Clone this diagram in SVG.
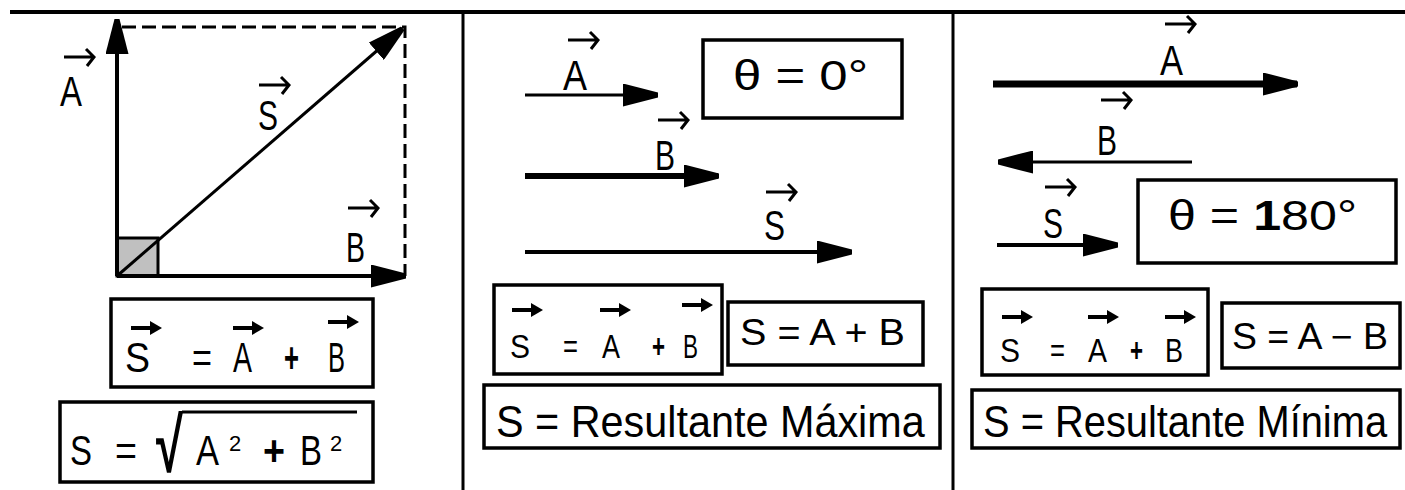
<svg xmlns="http://www.w3.org/2000/svg" xmlns:xlink="http://www.w3.org/1999/xlink" width="1405" height="490" viewBox="0 0 1405 490">
<style>
.ln{stroke:#000;fill:none}
.bx{fill:#fff;stroke:#000;stroke-width:3.5}
.t{font-family:"Liberation Sans",Arial,sans-serif;fill:#000}
.l{font-size:42px}
.m{font-size:34px}
.b{font-size:44px}
</style>
<defs>
<marker id="ah" viewBox="0 0 35 23" markerWidth="35" markerHeight="23" refX="34" refY="11.5" orient="auto" markerUnits="userSpaceOnUse">
<path d="M0,0 L35,9 L35,14 L0,23 Z" fill="#000"/>
</marker>
<path id="ova" d="M0,0 H30 M22,-8 L30,0 L23,9" stroke="#000" stroke-width="3" fill="none"/>
<g id="ovb"><path d="M0,0 H22" stroke="#000" stroke-width="4"/><path d="M19,-7 L31,0 L19,7 Z" fill="#000"/></g>
</defs>

<g id="frame">
<line class="ln" x1="10" y1="12" x2="1405" y2="12" stroke-width="4"/>
<line class="ln" x1="463" y1="12" x2="463" y2="490" stroke-width="3"/>
<line class="ln" x1="953" y1="12" x2="953" y2="490" stroke-width="3"/>
</g>

<g id="connectors">
<path class="ln" d="M122,27 H405 V276" stroke-width="3" stroke-dasharray="14 6"/>
<rect x="117" y="238" width="41" height="38" fill="#c0c0c0" stroke="#000" stroke-width="3"/>
<line class="ln" x1="117" y1="276" x2="117" y2="20" stroke-width="4" marker-end="url(#ah)"/>
<line class="ln" x1="117" y1="276" x2="405" y2="276" stroke-width="4" marker-end="url(#ah)"/>
<line class="ln" x1="117" y1="276" x2="402" y2="29" stroke-width="3" marker-end="url(#ah)"/>

<line class="ln" x1="525" y1="95" x2="657" y2="95" stroke-width="3" marker-end="url(#ah)"/>
<line class="ln" x1="525" y1="176" x2="718" y2="176" stroke-width="6" marker-end="url(#ah)"/>
<line class="ln" x1="525" y1="252" x2="851" y2="252" stroke-width="4" marker-end="url(#ah)"/>

<line class="ln" x1="993" y1="84" x2="1297" y2="84" stroke-width="7" marker-end="url(#ah)"/>
<line class="ln" x1="1192" y1="162" x2="999" y2="162" stroke-width="3" marker-end="url(#ah)"/>
<line class="ln" x1="997" y1="245" x2="1117" y2="245" stroke-width="4" marker-end="url(#ah)"/>
</g>

<g id="labelA1"><use xlink:href="#ova" x="64" y="57"/><text class="t l" x="60" y="106" textLength="22" lengthAdjust="spacingAndGlyphs">A</text></g>
<g id="labelS1"><use xlink:href="#ova" x="259" y="85"/><text class="t l" x="258" y="130" textLength="20" lengthAdjust="spacingAndGlyphs">S</text></g>
<g id="labelB1"><use xlink:href="#ova" x="348" y="208"/><text class="t l" x="346" y="262" textLength="19" lengthAdjust="spacingAndGlyphs">B</text></g>

<g id="eq1">
<rect class="bx" x="111" y="299" width="262" height="88"/>
<use xlink:href="#ovb" x="131" y="328"/><use xlink:href="#ovb" x="233" y="328"/><use xlink:href="#ovb" x="328" y="322"/>
<text class="t l" x="125" y="372" textLength="25" lengthAdjust="spacingAndGlyphs">S</text>
<text class="t l" x="192" y="372" textLength="20" lengthAdjust="spacingAndGlyphs">=</text>
<text class="t l" x="233" y="372" textLength="19" lengthAdjust="spacingAndGlyphs">A</text>
<text class="t l" x="284" y="372" textLength="15" lengthAdjust="spacingAndGlyphs" font-weight="bold">+</text>
<text class="t l" x="328" y="372" textLength="17" lengthAdjust="spacingAndGlyphs">B</text>
</g>

<g id="eq2">
<rect class="bx" x="60" y="402" width="313" height="80"/>
<text class="t l" x="70" y="465" textLength="22" lengthAdjust="spacingAndGlyphs">S</text>
<text class="t l" x="115" y="465" textLength="22" lengthAdjust="spacingAndGlyphs">=</text>
<text class="t" x="156" y="472" font-size="77" font-weight="bold" textLength="27" lengthAdjust="spacingAndGlyphs">√</text>
<line class="ln" x1="182" y1="412" x2="357" y2="412" stroke-width="3"/>
<text class="t l" x="196" y="465" textLength="23" lengthAdjust="spacingAndGlyphs">A</text>
<text class="t" x="229" y="451" font-size="22">2</text>
<text class="t l" x="263" y="465" textLength="22" lengthAdjust="spacingAndGlyphs" font-weight="bold">+</text>
<text class="t l" x="300" y="465" textLength="22" lengthAdjust="spacingAndGlyphs">B</text>
<text class="t" x="330" y="451" font-size="22">2</text>
</g>

<g id="labelA2"><use xlink:href="#ova" x="568" y="40"/><text class="t l" x="563" y="90" textLength="24" lengthAdjust="spacingAndGlyphs">A</text></g>
<g id="labelB2"><use xlink:href="#ova" x="658" y="120"/><text class="t l" x="655" y="170" textLength="20" lengthAdjust="spacingAndGlyphs">B</text></g>
<g id="labelS2"><use xlink:href="#ova" x="766" y="192"/><text class="t l" x="764" y="240" textLength="21" lengthAdjust="spacingAndGlyphs">S</text></g>

<g id="theta0">
<rect class="bx" x="703" y="40" width="199" height="78" stroke-width="4"/>
<text class="t l" x="733" y="90" textLength="135" lengthAdjust="spacingAndGlyphs">θ = 0°</text>
</g>

<g id="eq3">
<rect class="bx" x="494" y="285" width="228" height="89"/>
<use xlink:href="#ovb" x="512" y="310"/><use xlink:href="#ovb" x="600" y="310"/><use xlink:href="#ovb" x="682" y="305"/>
<text class="t m" x="510" y="358" textLength="20" lengthAdjust="spacingAndGlyphs">S</text>
<text class="t m" x="563" y="358" textLength="15" lengthAdjust="spacingAndGlyphs">=</text>
<text class="t m" x="602" y="358" textLength="18" lengthAdjust="spacingAndGlyphs">A</text>
<text class="t m" x="652" y="358" textLength="13" lengthAdjust="spacingAndGlyphs" font-weight="bold">+</text>
<text class="t m" x="683" y="358" textLength="15" lengthAdjust="spacingAndGlyphs">B</text>
</g>

<g id="eq4">
<rect class="bx" x="728" y="302" width="195" height="63"/>
<text class="t" x="740" y="345" font-size="36" textLength="165" lengthAdjust="spacingAndGlyphs">S = A + B</text>
</g>

<g id="max">
<rect class="bx" x="484" y="385" width="456" height="63"/>
<text class="t b" transform="translate(496,437) scale(0.92,1)" x="0" y="0" textLength="466" lengthAdjust="spacingAndGlyphs">S = Resultante Máxima</text>
</g>

<g id="labelA3"><use xlink:href="#ova" x="1165" y="24"/><text class="t l" x="1160" y="75" textLength="23" lengthAdjust="spacingAndGlyphs">A</text></g>
<g id="labelB3"><use xlink:href="#ova" x="1101" y="100"/><text class="t l" x="1097" y="155" textLength="20" lengthAdjust="spacingAndGlyphs">B</text></g>
<g id="labelS3"><use xlink:href="#ova" x="1045" y="187"/><text class="t l" x="1043" y="238" textLength="20" lengthAdjust="spacingAndGlyphs">S</text></g>

<g id="theta180">
<rect class="bx" x="1138" y="180" width="258" height="83" stroke-width="4"/>
<text class="t l" x="1168" y="230" textLength="189" lengthAdjust="spacingAndGlyphs">θ = <tspan font-weight="bold">1</tspan>80°</text>
</g>

<g id="eq5">
<rect class="bx" x="982" y="289" width="226" height="86"/>
<use xlink:href="#ovb" x="1002" y="317"/><use xlink:href="#ovb" x="1088" y="317"/><use xlink:href="#ovb" x="1165" y="317"/>
<text class="t m" x="1000" y="362" textLength="20" lengthAdjust="spacingAndGlyphs">S</text>
<text class="t m" x="1050" y="362" textLength="15" lengthAdjust="spacingAndGlyphs">=</text>
<text class="t m" x="1088" y="362" textLength="19" lengthAdjust="spacingAndGlyphs">A</text>
<text class="t m" x="1130" y="362" textLength="13" lengthAdjust="spacingAndGlyphs" font-weight="bold">+</text>
<text class="t m" x="1165" y="362" textLength="18" lengthAdjust="spacingAndGlyphs">B</text>
</g>

<g id="eq6">
<rect class="bx" x="1222" y="303" width="178" height="65"/>
<text class="t" x="1232" y="349" font-size="36" textLength="156" lengthAdjust="spacingAndGlyphs">S = A − B</text>
</g>

<g id="min">
<rect class="bx" x="972" y="390" width="428" height="58"/>
<text class="t b" transform="translate(983,437) scale(0.89,1)" x="0" y="0" textLength="454" lengthAdjust="spacingAndGlyphs">S = Resultante Mínima</text>
</g>
</svg>
